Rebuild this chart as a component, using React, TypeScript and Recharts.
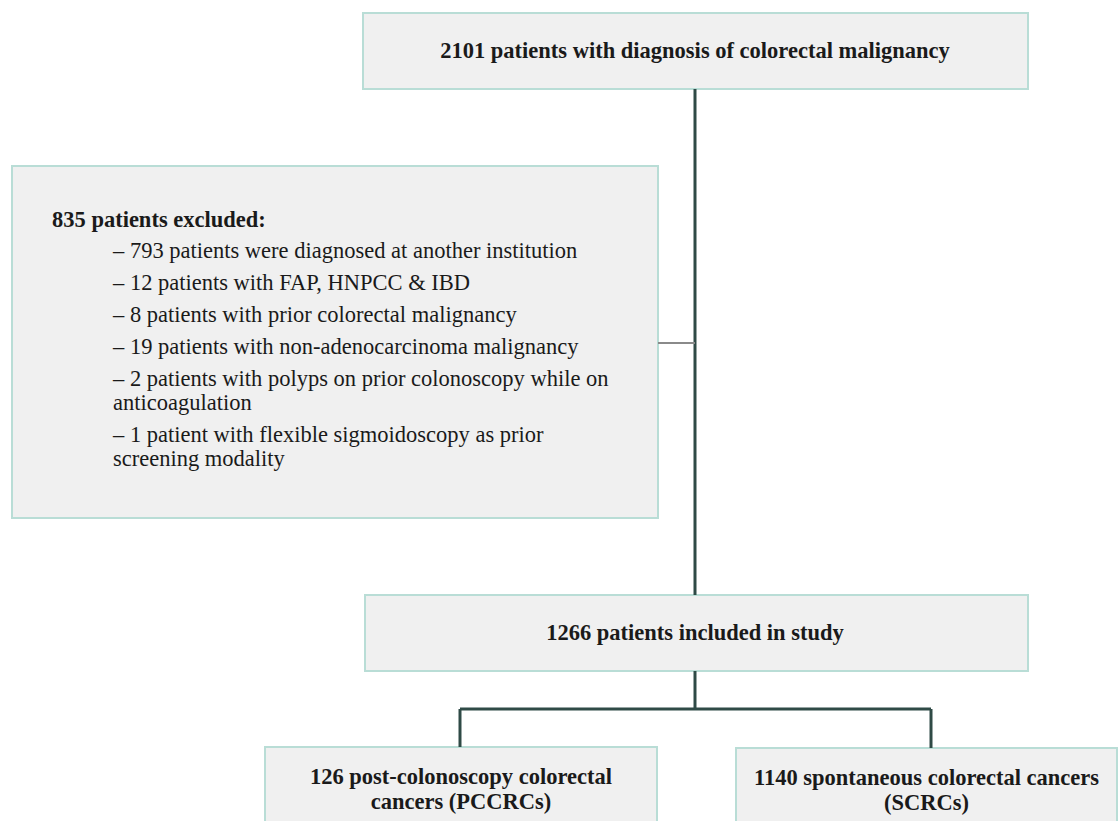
import {
  ComposedChart,
  ReferenceArea,
  ReferenceLine,
  Scatter,
  XAxis,
  YAxis,
} from "recharts";

// flow stages: counts and titles ("\n" marks where the original wraps)
const stageKeys = ["screened", "excluded", "included", "pccrc", "scrc"];
const stageCounts = [2101, 835, 1266, 126, 1140];
const stageTitles = [
  "patients with diagnosis of colorectal malignancy",
  "patients excluded:",
  "patients included in study",
  "post-colonoscopy colorectal\ncancers (PCCRCs)",
  "spontaneous colorectal cancers\n(SCRCs)",
];

const exclusionCounts = [793, 12, 8, 19, 2, 1];
const exclusionReasons = [
  "patients were diagnosed at another institution",
  "patients with FAP, HNPCC & IBD",
  "patients with prior colorectal malignancy",
  "patients with non-adenocarcinoma malignancy",
  "patients with polyps on prior colonoscopy while on\nanticoagulation",
  "patient with flexible sigmoidoscopy as prior\nscreening modality",
];

// layout, in axis units (domain matches the canvas size)
const W = 1119;
const H = 821;
const boxes: Record<string, { x1: number; x2: number; y1: number; y2: number }> = {
  screened: { x1: 363, x2: 1028, y1: 13, y2: 89 },
  excluded: { x1: 12, x2: 658, y1: 166, y2: 518 },
  included: { x1: 365, x2: 1028, y1: 595, y2: 671 },
  pccrc: { x1: 265, x2: 657, y1: 747, y2: 840 },
  scrc: { x1: 736, x2: 1117, y1: 748, y2: 840 },
};
const spineX = 695;
const splitY = 709;
const branchX = [460, 931];

const FONT = "Liberation Serif, Tinos, Times New Roman, serif";
const LINE = "#2f4a46";
const BORDER = "#b9ddd6";
const FILL = "#f0f0f0";
const TEXT = "#1a1a1a";

const nodes = stageKeys.map((k, i) => ({
  key: k,
  n: stageCounts[i],
  x: (boxes[k].x1 + boxes[k].x2) / 2,
  y: (boxes[k].y1 + boxes[k].y2) / 2,
}));

const CenterText = ({ viewBox, text, cx, top }: any) => {
  if (!viewBox) return null;
  const lines = String(text).split("\n");
  const x = cx ?? viewBox.x + viewBox.width / 2;
  return (
    <text
      x={x}
      y={viewBox.y + top}
      textAnchor="middle"
      style={{ fontFamily: FONT, fontWeight: 700, fontSize: 22.5 }}
      fill={TEXT}
    >
      {lines.map((l, i) => (
        <tspan key={i} x={x} dy={i === 0 ? 0 : 25}>
          {l}
        </tspan>
      ))}
    </text>
  );
};

const ExclusionText = ({ viewBox }: any) => {
  if (!viewBox) return null;
  const { x, y } = viewBox;
  const rows: { text: string; y: number }[] = [];
  let cur = 92;
  exclusionReasons.forEach((r, i) => {
    r.split("\n").forEach((part, j) => {
      rows.push({ text: j === 0 ? `– ${exclusionCounts[i]} ${part}` : part, y: cur });
      cur += 24;
    });
    cur += 8;
  });
  return (
    <g fill={TEXT}>
      <text x={x + 40} y={y + 61} style={{ fontFamily: FONT, fontWeight: 700, fontSize: 22.5 }}>
        {`${stageCounts[1]} ${stageTitles[1]}`}
      </text>
      {rows.map((r, i) => (
        <text key={i} x={x + 101} y={y + r.y} style={{ fontFamily: FONT, fontSize: 22.5 }}>
          {r.text}
        </text>
      ))}
    </g>
  );
};

const segments: { pts: [number, number][]; color?: string; w?: number }[] = [
  { pts: [[spineX, boxes.screened.y2], [spineX, boxes.included.y1]] },
  { pts: [[boxes.excluded.x2, 343], [spineX, 343]], color: "#8a8a8a", w: 2 },
  { pts: [[spineX, boxes.included.y2], [spineX, splitY]] },
  { pts: [[branchX[0], splitY], [branchX[1], splitY]] },
  { pts: [[branchX[0], splitY], [branchX[0], boxes.pccrc.y1]] },
  { pts: [[branchX[1], splitY], [branchX[1], boxes.scrc.y1]] },
];

export default function App() {
  const label = (key: string) => {
    const i = stageKeys.indexOf(key);
    const text = `${stageCounts[i]} ${stageTitles[i]}`;
    if (key === "screened" || key === "included")
      return (props: any) => <CenterText {...props} text={text} cx={spineX} top={45} />;
    return (props: any) => <CenterText {...props} text={text} top={37} />;
  };

  return (
    <div style={{ position: "absolute", left: 0, top: 0, background: "#fff" }}>
      <ComposedChart
        width={W}
        height={H}
        data={nodes}
        margin={{ top: 0, right: 0, bottom: 0, left: 0 }}
      >
        <XAxis type="number" dataKey="x" domain={[0, W]} hide allowDataOverflow />
        <YAxis type="number" dataKey="y" domain={[0, H]} reversed hide allowDataOverflow />

        {segments.map((s, i) => (
          <ReferenceLine
            key={i}
            segment={s.pts.map(([x, y]) => ({ x, y }))}
            stroke={s.color ?? LINE}
            strokeWidth={s.w ?? 3}
            ifOverflow="visible"
          />
        ))}

        {stageKeys.map((k) => (
          <ReferenceArea
            key={k}
            x1={boxes[k].x1}
            x2={boxes[k].x2}
            y1={boxes[k].y1}
            y2={boxes[k].y2}
            fill={FILL}
            fillOpacity={1}
            stroke={BORDER}
            strokeWidth={2}
            ifOverflow="visible"
            label={k === "excluded" ? (props: any) => <ExclusionText {...props} /> : label(k)}
          />
        ))}

        <Scatter dataKey="n" isAnimationActive={false} shape={() => <g />} />
      </ComposedChart>
    </div>
  );
}
